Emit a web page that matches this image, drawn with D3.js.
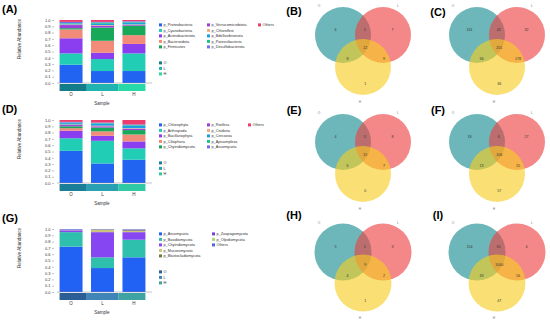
<!DOCTYPE html>
<html><head><meta charset="utf-8">
<script src="https://cdn.jsdelivr.net/npm/d3@7"></script>
<style>
body{margin:0;background:#fff}
svg{display:block}
text{font-family:"Liberation Sans",Arial,sans-serif}
</style>
</head><body>
<svg id="c" width="550" height="325"></svg>
<script>
// ---------------- DATA ----------------
const groups = ["O", "L", "H"];
const yTicks = [0, 0.1, 0.2, 0.3, 0.4, 0.5, 0.6, 0.7, 0.8, 0.9, 1.0];

// (A) bacteria phyla
const phylaA = ["p_Proteobacteria","p_Cyanobacteria","p_Actinobacteriota","p_Bacteroidota","p_Firmicutes",
  "p_Verrucomicrobiota","p_Chloroflexi","p_Bdellovibrionota","p_Patescibacteria","p_Desulfobacterota","Others"];
const abundA_O = [0.29,0.18,0.24,0.14,0.02,0.05,0.01,0.01,0.01,0.02,0.03];
const abundA_L = [0.19,0.19,0.10,0.19,0.21,0.03,0.01,0.02,0.02,0.01,0.03];
const abundA_H = [0.19,0.28,0.15,0.14,0.15,0.01,0.01,0.03,0.01,0.01,0.02];

// (D) eukaryote phyla
const phylaD = ["p_Chlorophyta","p_Arthropoda","p_Bacillariophyta","p_Ciliophora","p_Chytridiomycota",
  "p_Rotifera","p_Cnidaria","p_Cercozoa","p_Apicomplexa","p_Ascomycota","Others"];
const abundD_O = [0.51,0.20,0.12,0.04,0.03,0.02,0.01,0.02,0.01,0.01,0.03];
const abundD_L = [0.31,0.36,0.08,0.07,0.06,0.02,0.01,0.03,0.01,0.01,0.04];
const abundD_H = [0.37,0.18,0.11,0.11,0.07,0.02,0.01,0.04,0.01,0.01,0.07];

// (G) fungal phyla
const phylaG = ["p_Ascomycota","p_Basidiomycota","p_Chytridiomycota","p_Mucoromycota","p_Blastocladiomycota",
  "p_Zoopagomycota","p_Olpidiomycota","Others"];
const abundG_O = [0.72,0.23,0.03,0.01,0.0,0.0,0.0,0.01];
const abundG_L = [0.38,0.17,0.40,0.04,0.005,0.0,0.0,0.005];
const abundG_H = [0.55,0.28,0.12,0.02,0.01,0.01,0.005,0.005];

// Venn region counts: [O only, O∩L, L only, O∩L∩H, O∩H, L∩H, H only]
const vennSets = ["O", "L", "H"];
const vennB = [6, 5, 7, 22, 8, 9, 1];
const vennC = [161, 42, 32, 201, 34, 178, 36];
const vennE = [4, 3, 8, 15, 6, 7, 0];
const vennF = [18, 6, 27, 106, 13, 15, 57];
const vennH = [5, 2, 3, 9, 4, 2, 1];
const vennI = [154, 61, 4, 1000, 33, 16, 47];

// ---------------- STYLES ----------------
const barColorsA = ["#2164f2","#22cdb5","#8b3df0","#f28b7a","#17a85a","#9a40d8","#f2aa86","#1c9ee3","#19c48e","#6b70f0","#ee3c6d"];
const barColorsD = barColorsA;
const barColorsG = ["#2161f3","#2fc0ad","#8646f2","#cdc27e","#6d7a40","#7a3fe0","#a9d872","#5262f0"];
const bandColorsA = ["#137c8a","#1fb4b0","#27d9a6"];
const bandColorsD = ["#1b7e99","#2aa1b3","#30c9a6"];
const bandColorsG = ["#2a5e95","#3f85b8","#3fa3a3"];
const vennColors = ["#138a92","#ee3f3f","#f7cd1e"];

const svg = d3.select("#c");

function barPanel(cfg) {
  const g = svg.append("g");
  const y = d3.scaleLinear().domain([0, 1]).range([cfg.top + 63, cfg.top]);
  const x = d3.scaleBand().domain(groups).range([58, 147]).paddingInner(0.27).paddingOuter(0.05);
  const y0 = y(0);
  const rows = groups.map((grp, i) => {
    const o = { group: grp };
    cfg.names.forEach((n, k) => o[n] = cfg.values[i][k]);
    return o;
  });
  const series = d3.stack().keys(cfg.names)(rows);
  const color = d3.scaleOrdinal().domain(cfg.names).range(cfg.colors);

  g.append("text").attr("x", 2).attr("y", cfg.top - 7).attr("font-size", 11).attr("font-weight", "bold").text(cfg.label);

  g.selectAll("g.s").data(series).join("g").attr("fill", d => color(d.key))
    .selectAll("rect").data(d => d).join("rect")
    .attr("x", d => x(d.data.group)).attr("width", x.bandwidth())
    .attr("y", d => y(d[1])).attr("height", d => Math.max(0, y(d[0]) - y(d[1])));

  const ax = g.append("g").attr("transform", `translate(54,0)`)
    .call(d3.axisLeft(y).tickValues(yTicks).tickFormat(d3.format(".1f")).tickSize(2).tickPadding(1.5));
  ax.select(".domain").remove();
  ax.selectAll("line").attr("stroke", "#666").attr("stroke-width", 0.4);
  ax.selectAll("text").attr("font-size", 4).attr("fill", "#333").attr("font-family", "Liberation Sans, Arial");

  g.append("line").attr("x1", 57).attr("x2", 152).attr("y1", y0).attr("y2", y0).attr("stroke", "#888").attr("stroke-width", 0.5);

  const step = x.step(), half = step * x.paddingInner() / 2;
  g.selectAll("rect.band").data(groups).join("rect").attr("class", "band")
    .attr("x", (d, i) => i === 0 ? x(d) : x(d) - half)
    .attr("width", (d, i) => x.bandwidth() + (i === 0 ? half : (i === groups.length - 1 ? half : 2 * half)))
    .attr("y", y0 + 1).attr("height", 7)
    .attr("fill", (d, i) => cfg.band[i]);

  g.selectAll("text.xt").data(groups).join("text").attr("class", "xt")
    .attr("x", d => x(d) + x.bandwidth() / 2).attr("y", y0 + 13)
    .attr("text-anchor", "middle").attr("font-size", 4.5).attr("fill", "#333").text(d => d);
  g.append("text").attr("x", 102).attr("y", y0 + 22).attr("text-anchor", "middle")
    .attr("font-size", 4.5).attr("fill", "#333").text("Sample");
  g.append("text").attr("transform", `translate(21,${cfg.top + 19}) rotate(-90)`)
    .attr("text-anchor", "middle").attr("font-size", 4.5).attr("fill", "#333").text("Relative Abundance");

  const lg = g.append("g");
  cfg.names.forEach((n, k) => {
    let col, row;
    if (k < 5) { col = 0; row = k; }
    else if (k < 10) { col = 1; row = k - 5; }
    else { col = 2; row = 0; }
    if (cfg.othersInCol2 && n === "Others") { col = 1; row = k - 5; }
    const lx = cfg.legX[col], ly = cfg.top + 5 + row * 5.5;
    lg.append("rect").attr("x", lx).attr("y", ly - 1.6).attr("width", 3).attr("height", 3).attr("fill", color(n));
    lg.append("text").attr("x", lx + 4.5).attr("y", ly + 1.3).attr("font-size", 3.8).attr("fill", "#333").text(n);
  });
  groups.forEach((grp, i) => {
    const ly = cfg.top + 43 + i * 5.5;
    lg.append("rect").attr("x", 159).attr("y", ly - 1.6).attr("width", 3).attr("height", 3).attr("fill", cfg.band[i]);
    lg.append("text").attr("x", 163.5).attr("y", ly + 1.3).attr("font-size", 3.8).attr("fill", "#333").text(grp);
  });
}

barPanel({ label: "(A)", top: 20, names: phylaA, colors: barColorsA, values: [abundA_O, abundA_L, abundA_H],
  band: bandColorsA, legX: [159, 207, 258] });
barPanel({ label: "(D)", top: 120, names: phylaD, colors: barColorsD, values: [abundD_O, abundD_L, abundD_H],
  band: bandColorsD, legX: [159, 207, 248] });
barPanel({ label: "(G)", top: 229, names: phylaG, colors: barColorsG, values: [abundG_O, abundG_L, abundG_H],
  band: bandColorsG, legX: [159, 212, 250], othersInCol2: true });

function venn(cfg) {
  const g = svg.append("g");
  const r = cfg.r, dx = 20, dy = cfg.dy;
  const centers = [[cfg.cx - dx, cfg.cy], [cfg.cx + dx, cfg.cy], [cfg.cx, cfg.cy + dy]];
  g.append("text").attr("x", cfg.lx).attr("y", cfg.ly).attr("text-anchor", "middle")
    .attr("font-size", 11).attr("font-weight", "bold").text(cfg.label);
  g.selectAll("circle").data(centers).join("circle")
    .attr("cx", d => d[0]).attr("cy", d => d[1]).attr("r", r)
    .attr("fill", (d, i) => vennColors[i]).attr("fill-opacity", 0.62);
  const Gx = d3.mean(centers, d => d[0]), Gy = d3.mean(centers, d => d[1]);
  const offs = [[-0.98, -0.56], [0.06, -0.56], [1.05, -0.56], [0.08, 0.08], [-0.55, 0.48], [0.75, 0.48], [0.08, 1.38]];
  g.selectAll("text.n").data(cfg.counts).join("text").attr("class", "n")
    .attr("x", (d, i) => Gx + offs[i][0] * 28).attr("y", (d, i) => Gy + offs[i][1] * 28 + 1)
    .attr("text-anchor", "middle").attr("font-size", 3.6).attr("fill", "#333").text(d => d);
  const setPos = [[centers[0][0] - 24, centers[0][1] - 28], [centers[1][0] + 15, centers[1][1] - 28], [centers[2][0] - 3, centers[2][1] + 36]];
  g.selectAll("text.s").data(vennSets).join("text").attr("class", "s")
    .attr("x", (d, i) => setPos[i][0]).attr("y", (d, i) => setPos[i][1])
    .attr("text-anchor", "middle").attr("font-size", 3.2).attr("fill", "#777").text(d => d);
}

venn({ label: "(B)", cx: 363, cy: 35, r: 28, dy: 32, lx: 294, ly: 15, counts: vennB });
venn({ label: "(C)", cx: 497, cy: 35, r: 28, dy: 32, lx: 438, ly: 16, counts: vennC });
venn({ label: "(E)", cx: 363, cy: 142, r: 28, dy: 32, lx: 294, ly: 114, counts: vennE });
venn({ label: "(F)", cx: 497, cy: 142, r: 28, dy: 32, lx: 438, ly: 114, counts: vennF });
venn({ label: "(H)", cx: 363, cy: 252, r: 28.5, dy: 31, lx: 294, ly: 219, counts: vennH });
venn({ label: "(I)", cx: 497, cy: 252, r: 28.5, dy: 31, lx: 438, ly: 219, counts: vennI });
</script>
</body></html>
